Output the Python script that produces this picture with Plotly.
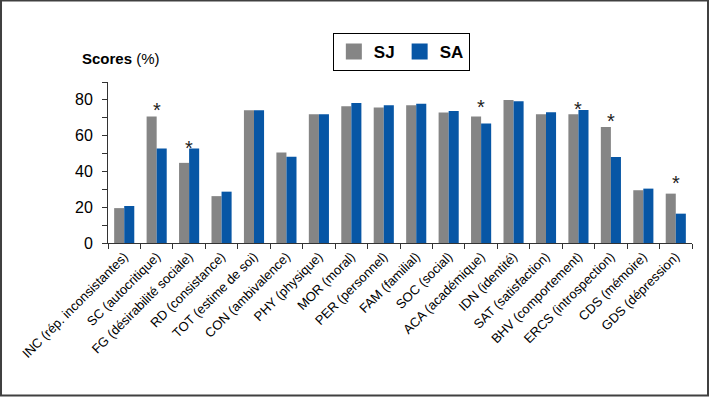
import plotly.graph_objects as go

categories = [
    "INC (rép. inconsistantes)", "SC (autocritique)", "FG (désirabilité sociale)",
    "RD (consistance)", "TOT (estime de soi)", "CON (ambivalence)", "PHY (physique)",
    "MOR (moral)", "PER (personnel)", "FAM (familial)", "SOC (social)",
    "ACA (académique)", "IDN (identité)", "SAT (satisfaction)", "BHV (comportement)",
    "ERCS (introspection)", "CDS (mémoire)", "GDS (dépression)",
]
sj_values = [19.5, 70.7, 44.8, 26.2, 74.2, 50.6, 72.0, 76.5, 75.7, 77.0, 72.9,
             70.7, 80.0, 72.0, 72.0, 64.9, 29.5, 27.6]
sa_values = [20.7, 52.8, 52.8, 28.7, 74.2, 48.2, 72.0, 78.3, 77.0, 77.8, 73.8,
             66.8, 79.3, 73.1, 74.3, 48.1, 30.4, 16.4]
# significance markers: category and level of the star
star_categories = ["SC (autocritique)", "FG (désirabilité sociale)", "ACA (académique)",
                   "BHV (comportement)", "ERCS (introspection)", "GDS (dépression)"]
star_levels = [76.7, 55.5, 78.5, 77.1, 70.4, 35.8]
y_ticks = [0, 20, 40, 60, 80]

GRAY = "#858585"
BLUE = "#0756A5"

fig = go.Figure()
fig.add_trace(go.Bar(x=categories, y=sj_values, name="SJ", showlegend=False,
                     marker=dict(color=GRAY, line=dict(width=0))))
fig.add_trace(go.Bar(x=categories, y=sa_values, name="SA", showlegend=False,
                     marker=dict(color=BLUE, line=dict(width=0))))
# legend entries with square swatches
for nm, col in [("SJ", GRAY), ("SA", BLUE)]:
    fig.add_trace(go.Scatter(x=[None], y=[None], mode="markers", name=f"<b>{nm}</b>",
                             marker=dict(symbol="square", size=16, color=col),
                             hoverinfo="skip"))

for c, lvl in zip(star_categories, star_levels):
    fig.add_annotation(x=c, y=lvl, text="*", showarrow=False, xref="x", yref="y",
                       font=dict(size=20, color="#222", family="Liberation Sans, Arial"),
                       yanchor="middle", yshift=-4)

# title
fig.add_annotation(xref="paper", yref="paper", x=-0.048, y=1.149, xanchor="left",
                   yanchor="middle", showarrow=False,
                   text="<b>Scores</b> (%)",
                   font=dict(size=15, color="black", family="Liberation Sans, Arial"))

# outer frame
fig.add_shape(type="rect", xref="paper", yref="paper",
              x0=-0.1832, x1=1.0274, y0=-0.947, y1=1.506,
              line=dict(color="#404040", width=2), fillcolor="rgba(0,0,0,0)")

fig.update_layout(
    width=710, height=398,
    margin=dict(l=108, r=18, t=82, b=155, autoexpand=False),
    paper_bgcolor="white", plot_bgcolor="white",
    barmode="group", bargap=0.38, bargroupgap=0,
    font=dict(family="Liberation Sans, Arial", color="black"),
    showlegend=True,
    legend=dict(orientation="h", x=0.385, y=1.304, xanchor="left", yanchor="top",
                bordercolor="black", borderwidth=1, bgcolor="white",
                font=dict(size=17, color="black"), itemwidth=30),
    xaxis=dict(showline=True, linecolor="#333", linewidth=1, ticks="outside",
               tickson="boundaries", ticklen=5, tickcolor="#333",
               tickangle=-45, tickfont=dict(size=13, color="black"),
               showgrid=False, fixedrange=True, automargin=False),
    yaxis=dict(range=[0, 90], showline=True, linecolor="#333", linewidth=1,
               tickvals=y_ticks, ticks="outside", ticklen=5, tickcolor="#333",
               minor=dict(dtick=10, tick0=0, ticks="outside", ticklen=5, tickcolor="#333"),
               tickfont=dict(size=16, color="black"), ticklabelstandoff=6,
               showgrid=False, zeroline=False, automargin=False),
)

fig.write_html("out.html", config={"displayModeBar": False},
               post_script="document.body.style.margin='0';document.body.style.overflow='hidden';")
